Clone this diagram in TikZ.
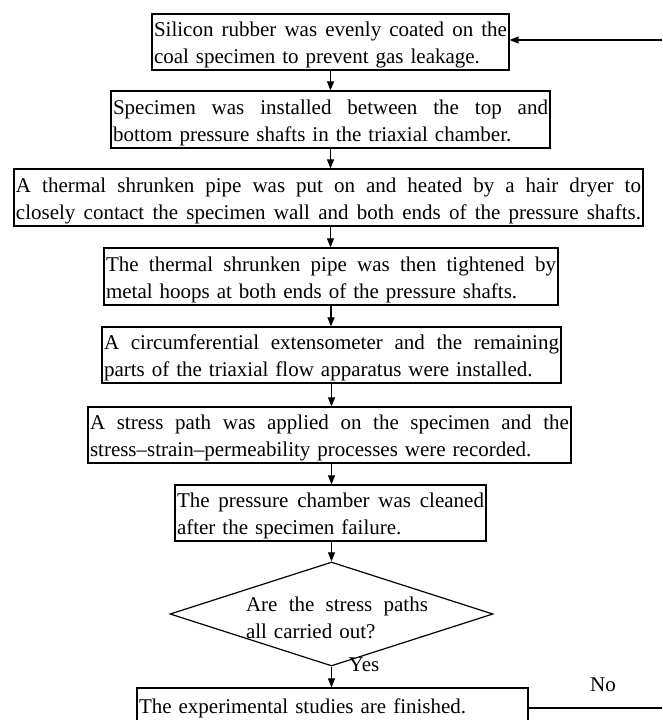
\documentclass[tikz,border=0pt]{standalone}
\usepackage{fontspec}
\setmainfont{Liberation Serif}
\usetikzlibrary{arrows.meta,shapes.geometric}
\newcommand{\jl}[2]{\leavevmode\hbox to #1{\spaceskip=0.25em plus 1fil minus 0.05em\relax\rule{0pt}{21pt}#2}}
\tikzset{
  stepbox/.style={draw, line width=1.2pt, rectangle, inner xsep=2pt, inner ysep=0pt,
    align=left, font=\fontsize{21}{27}\selectfont},
  arr/.style={line width=1.1pt, -{Triangle[length=9pt,width=7pt]}},
  plain/.style={line width=1.1pt},
  lbl/.style={inner sep=0pt, font=\fontsize{21}{27}\selectfont}
}
\begin{document}
\begin{tikzpicture}[x=1pt,y=-1pt]
\useasboundingbox (0,0) rectangle (662,720);
\clip (0,0) rectangle (662,720);
\node[stepbox, text width=353pt, minimum height=56pt] (b1) at (330.5,42)
  {\jl{353pt}{Silicon rubber was evenly coated on the}\\coal specimen to prevent gas leakage.};
\node[stepbox, text width=435pt, minimum height=57pt] (b2) at (330.5,119.5)
  {\jl{435pt}{Specimen was installed between the top and}\\bottom pressure shafts in the triaxial chamber.};
\node[stepbox, text width=625pt, minimum height=57pt] (b3) at (328.5,197.5)
  {\jl{625pt}{A thermal shrunken pipe was put on and heated by a hair dryer to}\\\leavevmode\hbox to 625pt{\spaceskip=0.25em plus 1fil\relax closely contact the specimen wall and both ends of the pressure shafts.}};
\node[stepbox, text width=450pt, minimum height=57pt] (b4) at (331,276.5)
  {\jl{450pt}{The thermal shrunken pipe was then tightened by}\\metal hoops at both ends of the pressure shafts.};
\node[stepbox, text width=455pt, minimum height=56pt] (b5) at (331.5,355)
  {\jl{455pt}{A circumferential extensometer and the remaining}\\parts of the triaxial flow apparatus were installed.};
\node[stepbox, text width=479pt, minimum height=56pt] (b6) at (329.5,435)
  {\jl{479pt}{A stress path was applied on the specimen and the}\\stress--strain--permeability processes were recorded.};
\node[stepbox, text width=307pt, minimum height=56pt] (b7) at (330.5,513)
  {\jl{307pt}{The pressure chamber was cleaned}\\after the specimen failure.};
\node[draw, diamond, line width=1.2pt, minimum width=323pt, minimum height=104pt, inner sep=0pt] (dia) at (331.5,614) {};
\node[lbl, text width=182pt, align=left] (dtext) at (337,618)
  {\leavevmode\hbox to 182pt{\spaceskip=0.25em plus 1fil\relax Are the stress paths}\\all carried out?};
\node[stepbox, text width=387pt, minimum height=57pt] (b8) at (332.5,716.5)
  {\rule{0pt}{21pt}The experimental studies are finished.\\\mbox{}};
\node[lbl] (yes) at (364,665) {Yes};
\node[lbl] (no) at (603,685) {No};
\coordinate (loopin) at (662,40);
\coordinate (loopout) at (662,708);
\draw[arr] (loopin) -- (loopin -| b1.east);
\draw[plain] (b8.east |- loopout) -- (loopout);
\draw[arr] (b1.south) -- (b1.south |- b2.north);
\draw[arr] (b2.south) -- (b2.south |- b3.north);
\draw[arr] (b3.south -| b2.south) -- (b2.south |- b4.north);
\draw[arr] (b4.south) -- (b4.south |- b5.north);
\draw[arr] (b5.south) -- (b5.south |- b6.north);
\draw[arr] (b6.south -| b5.south) -- (b5.south |- b7.north);
\draw[arr] (b7.south -| dia.north) -- (dia.north);
\draw[arr] (dia.south) -- (dia.south |- b8.north);
\end{tikzpicture}
\end{document}
